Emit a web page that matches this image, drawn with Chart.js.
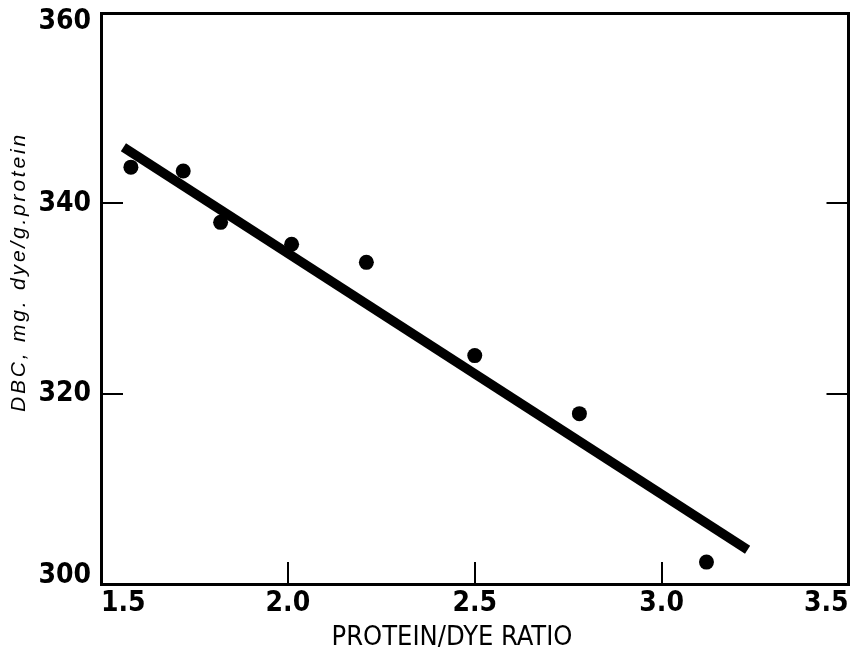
<!DOCTYPE html>
<html lang="en">
<head>
    <meta charset="UTF-8">
    <title>DBC vs Protein/Dye Ratio</title>
    <script src="https://cdn.jsdelivr.net/npm/chart.js"></script>
    <style>
        body {
            margin: 0;
            padding: 0;
            background-color: #ffffff;
        }
        #chart {
            display: block;
        }
    </style>
</head>
<body>
    <canvas id="chart" width="856" height="652"></canvas>

    <script>
        // measured points
        const ratio = [1.58, 1.72, 1.82, 2.01, 2.21, 2.50, 2.78, 3.12];
        const dbc = [343.8, 343.4, 338.0, 335.7, 333.8, 324.0, 317.9, 302.3];

        // fitted straight line, end points
        const fitX = [1.56, 3.23];
        const fitY = [345.9, 303.6];

        const xTicks = [1.5, 2.0, 2.5, 3.0, 3.5];
        const yTicks = [300, 320, 340, 360];

        const xTitle = 'PROTEIN/DYE RATIO';
        const yTitle = 'DBC, mg. dye/g.protein';

        const tickFont = {
            family: "'DejaVu Sans Condensed', sans-serif",
            size: 28,
            weight: 'bold'
        };

        // short inward tick marks, no grid on the plot area
        function innerTicks(len) {
            return {
                display: true,
                drawOnChartArea: false,
                drawTicks: true,
                tickLength: -len,
                color: '#000',
                lineWidth: 2
            };
        }

        const frame = { display: true, color: '#000', width: 3 };

        // fixed box size for each axis, and no extra room for overhanging labels
        function fixSize(w, h) {
            return s => {
                if (w !== null) s.width = w;
                if (h !== null) s.height = h;
                s.paddingLeft = s.paddingRight = s.paddingTop = s.paddingBottom = 0;
            };
        }

        // end labels of the y axis are nudged inside the frame with an empty line
        function yLabel(v) {
            if (v === yTicks[yTicks.length - 1]) return ['', String(v)];
            if (v === yTicks[0]) return [String(v), ''];
            return String(v);
        }

        // axis titles drawn by hand so they can sit where they belong
        const axisTitles = {
            id: 'axisTitles',
            afterDraw(chart) {
                const ctx = chart.ctx;
                ctx.save();
                ctx.fillStyle = '#000';
                ctx.font = "27px 'DejaVu Sans Condensed', sans-serif";
                ctx.textAlign = 'center';
                ctx.textBaseline = 'alphabetic';
                ctx.fillText(xTitle, 452, 645);

                ctx.translate(25, 272);
                ctx.rotate(-Math.PI / 2);
                ctx.font = "italic 21px 'Liberation Sans', sans-serif";
                ctx.letterSpacing = '2.8px';
                ctx.fillText(yTitle, 0, 0);
                ctx.restore();
            }
        };

        new Chart(document.getElementById('chart'), {
            type: 'scatter',
            data: {
                datasets: [
                    {
                        label: 'DBC',
                        data: ratio.map((r, i) => ({ x: r, y: dbc[i] })),
                        backgroundColor: '#000',
                        borderWidth: 0,
                        pointRadius: 7.5
                    },
                    {
                        label: 'fit',
                        data: fitX.map((r, i) => ({ x: r, y: fitY[i] })),
                        showLine: true,
                        borderColor: '#000',
                        borderWidth: 9.5,
                        borderCapStyle: 'butt',
                        pointRadius: 0
                    }
                ]
            },
            options: {
                responsive: false,
                animation: false,
                layout: {
                    padding: { top: 13, right: 6, left: 0, bottom: 0 }
                },
                plugins: {
                    legend: { display: false },
                    tooltip: { enabled: false }
                },
                scales: {
                    x: {
                        type: 'linear',
                        position: 'bottom',
                        min: 1.5,
                        max: 3.5,
                        afterBuildTicks: s => { s.ticks = xTicks.map(v => ({ value: v })); },
                        afterFit: fixSize(null, 68),
                        border: frame,
                        grid: innerTicks(22),
                        ticks: {
                            align: 'inner',
                            padding: 25,
                            color: '#000',
                            font: tickFont,
                            callback: v => v.toFixed(1)
                        }
                    },
                    x2: {
                        type: 'linear',
                        position: 'top',
                        min: 1.5,
                        max: 3.5,
                        afterFit: fixSize(null, 0),
                        border: frame,
                        grid: { display: false },
                        ticks: { display: false }
                    },
                    y: {
                        type: 'linear',
                        position: 'left',
                        min: 300,
                        max: 360,
                        afterBuildTicks: s => { s.ticks = yTicks.map(v => ({ value: v })); },
                        afterFit: fixSize(101, null),
                        border: frame,
                        grid: innerTicks(22),
                        ticks: {
                            padding: 32,
                            color: '#000',
                            font: Object.assign({}, tickFont, { lineHeight: 0.62 }),
                            callback: yLabel
                        }
                    },
                    y2: {
                        type: 'linear',
                        position: 'right',
                        min: 300,
                        max: 360,
                        afterBuildTicks: s => { s.ticks = yTicks.map(v => ({ value: v })); },
                        afterFit: fixSize(0, null),
                        border: frame,
                        grid: innerTicks(22),
                        ticks: { display: false }
                    }
                }
            },
            plugins: [axisTitles]
        });
    </script>
</body>
</html>
